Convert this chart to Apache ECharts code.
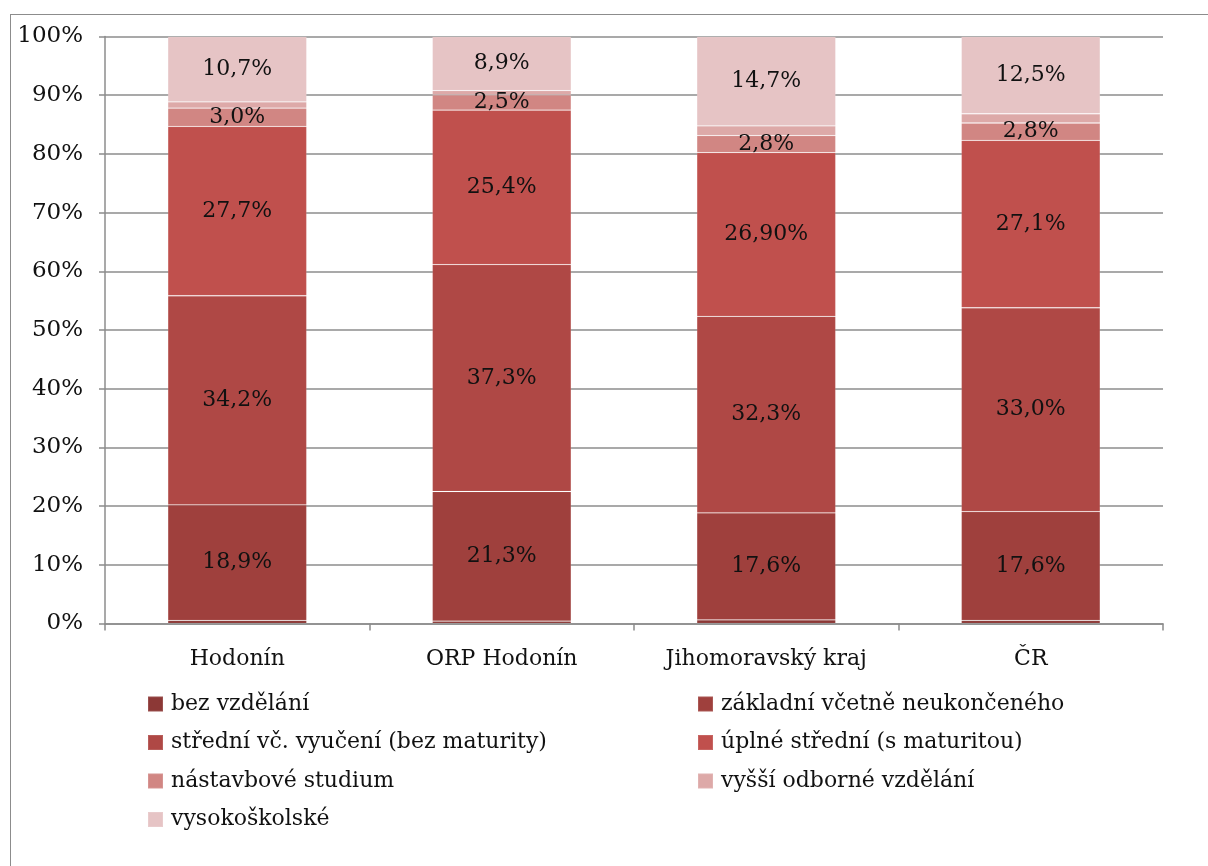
<!DOCTYPE html>
<html>
<head>
<meta charset="utf-8">
<script src="https://cdn.jsdelivr.net/npm/echarts@6/dist/echarts.min.js"></script>
<style>
  html, body { margin: 0; padding: 0; background: #fff; }
  #frame { position: absolute; left: 10px; top: 14px; width: 1210px; height: 870px; border: 1px solid #8c8c8c; }
  #chart { position: absolute; left: 0; top: 0; width: 1208px; height: 866px; }
</style>
</head>
<body>
<div id="frame"></div>
<div id="chart"></div>
<script>
// regions on the x axis
const categories = ['Hodonín', 'ORP Hodonín', 'Jihomoravský kraj', 'ČR']

// share of population by highest education (%)
const bezVzdelani   = [0.5, 0.4, 0.6, 0.5]
const zakladni      = [18.9, 21.3, 17.6, 17.6]
const stredni       = [34.2, 37.3, 32.3, 33.0]
const uplneStredni  = [27.7, 25.4, 26.9, 27.1]
const nastavbove    = [3.0, 2.5, 2.8, 2.8]
const vyssiOdborne  = [1.0, 0.7, 1.6, 1.5]
const vysokoskolske = [10.7, 8.9, 14.7, 12.5]

// printed label texts for the úplné střední segments (source shows "26,90%")
const uplneText = ['27,7%', '25,4%', '26,90%', '27,1%']

const yTicks = [0, 10, 20, 30, 40, 50, 60, 70, 80, 90, 100]

const seriesDefs = [
  { name: 'bez vzdělání', data: bezVzdelani, color: '#8c3836', label: false },
  { name: 'základní včetně neukončeného', data: zakladni, color: '#9f403d', label: true },
  { name: 'střední vč. vyučení (bez maturity)', data: stredni, color: '#af4845', label: true },
  { name: 'úplné střední (s maturitou)', data: uplneStredni, color: '#c0504d', label: true, text: uplneText },
  { name: 'nástavbové studium', data: nastavbove, color: '#d18683', label: true },
  { name: 'vyšší odborné vzdělání', data: vyssiOdborne, color: '#dda9a8', label: false },
  { name: 'vysokoškolské', data: vysokoskolske, color: '#e6c4c5', label: true }
]

// 100% stacked: scale each column to its own total
const totals = categories.map((c, i) => seriesDefs.reduce((s, d) => s + d.data[i], 0))

const fmt = v => v.toFixed(1).replace('.', ',') + '%'
const font = '"DejaVu Serif", "Liberation Serif", serif'

const chart = echarts.init(document.getElementById('chart'), null, { renderer: 'canvas' })

const legendText = { fontFamily: font, fontSize: 22, color: '#111', padding: [0, 0, 0, 3] }

chart.setOption({
  animation: false,
  textStyle: { fontFamily: font },
  grid: { left: 105, right: 45, top: 36.5, bottom: 242.5, containLabel: false },
  legend: [
    {
      left: 142, top: 688, orient: 'vertical', itemWidth: 15, itemHeight: 15, itemGap: 16.5,
      icon: 'rect', textStyle: legendText,
      data: ['bez vzdělání', 'střední vč. vyučení (bez maturity)', 'nástavbové studium', 'vysokoškolské']
    },
    {
      left: 692, top: 688, orient: 'vertical', itemWidth: 15, itemHeight: 15, itemGap: 16.5,
      icon: 'rect', textStyle: legendText,
      data: ['základní včetně neukončeného', 'úplné střední (s maturitou)', 'vyšší odborné vzdělání']
    }
  ],
  xAxis: {
    type: 'category',
    data: categories,
    axisLine: { lineStyle: { color: '#8c8c8c', width: 1.5 } },
    axisTick: { show: true, length: 7, lineStyle: { color: '#8c8c8c', width: 1.5 } },
    axisLabel: { fontFamily: font, fontSize: 22, color: '#111', margin: 25 }
  },
  yAxis: {
    type: 'value',
    min: 0, max: 100, interval: 10,
    axisLine: { show: true, lineStyle: { color: '#8c8c8c', width: 1.5 } },
    axisTick: { show: true, length: 6, lineStyle: { color: '#8c8c8c', width: 1.5 } },
    splitLine: { lineStyle: { color: '#8c8c8c', width: 1.5 } },
    axisLabel: {
      fontFamily: font, fontSize: 23, color: '#111', margin: 22,
      formatter: v => yTicks.includes(v) ? v + '%' : ''
    }
  },
  series: seriesDefs.map(d => ({
    name: d.name,
    type: 'bar',
    stack: 'total',
    barWidth: 139,
    itemStyle: { color: d.color, borderColor: 'rgba(255,255,255,0.12)', borderWidth: 0.8 },
    label: {
      show: d.label,
      position: 'inside',
      fontFamily: font,
      fontSize: 22,
      color: '#111',
      formatter: p => d.text ? d.text[p.dataIndex] : fmt(d.data[p.dataIndex])
    },
    data: d.data.map((v, i) => v / totals[i] * 100)
  }))
})

window.addEventListener('resize', () => chart.resize())
</script>
</body>
</html>
